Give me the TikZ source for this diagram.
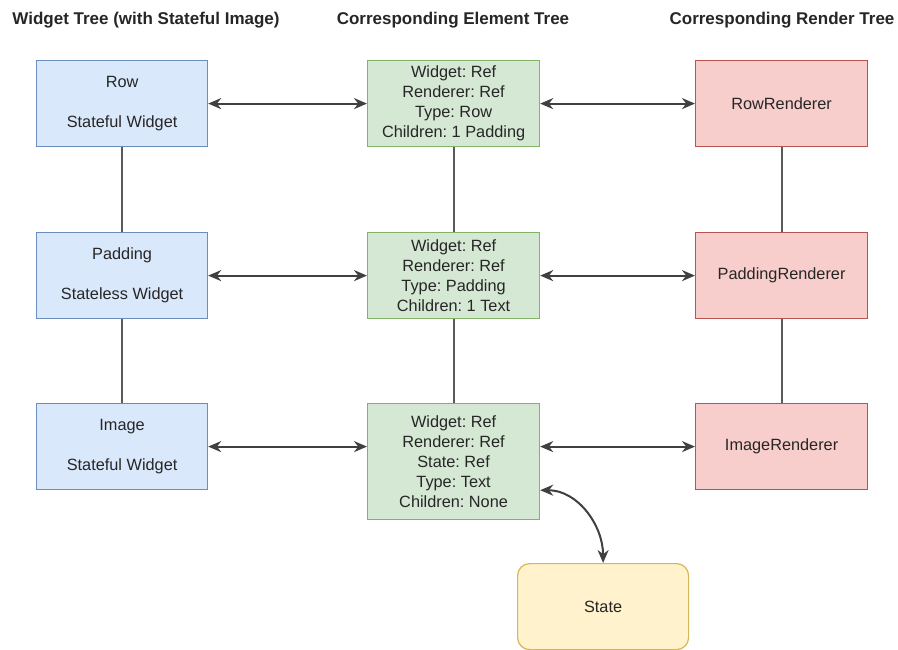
\documentclass[tikz,border=0pt]{standalone}
\usepackage{fontspec}
\setmainfont{Liberation Sans}
\usetikzlibrary{arrows.meta,calc}
\definecolor{bfill}{HTML}{DAE8FC}\definecolor{bdraw}{HTML}{6C8EBF}
\definecolor{gfill}{HTML}{D5E8D4}\definecolor{gdraw}{HTML}{82B366}
\definecolor{rfill}{HTML}{F8CECC}\definecolor{rdraw}{HTML}{B85450}
\definecolor{yfill}{HTML}{FFF2CC}\definecolor{ydraw}{HTML}{D6B656}
\definecolor{txt}{HTML}{262626}
\frenchspacing
\begin{document}
\begin{tikzpicture}[x=1pt,y=1pt,
  box/.style={draw, line width=1.2pt, minimum width=171pt, minimum height=86pt, inner sep=0pt,
    align=center, anchor=north west, text=txt, font=\fontsize{16.3}{20}\selectfont},
  bluebox/.style={box, fill=bfill, draw=bdraw},
  greenbox/.style={box, fill=gfill, draw=gdraw},
  redbox/.style={box, fill=rfill, draw=rdraw},
  yellowbox/.style={box, fill=yfill, draw=ydraw, rounded corners=12pt},
  title/.style={font=\fontsize{17}{20}\selectfont\bfseries, text=txt, inner sep=0pt},
  link/.style={draw=black!65, line width=1.8pt},
  conn/.style={{Stealth[length=13pt,width=11pt]}-{Stealth[length=13pt,width=11pt]}, draw=black!75, line width=2pt}
]
\useasboundingbox (0,0) rectangle (898,-649);
\node[title] (t1) at (146,-20) {Widget Tree (with Stateful Image)};
\node[title] (t2) at (453,-20) {Corresponding Element Tree};
\node[title] (t3) at (782,-20) {Corresponding Render Tree};

\node[bluebox] (b1) at (36,-60) {Row\\[20pt]Stateful Widget};
\node[bluebox] (b2) at (36,-232) {Padding\\[20pt]Stateless Widget};
\node[bluebox] (b3) at (36,-403) {Image\\[20pt]Stateful Widget};

\node[greenbox, minimum width=172pt] (g1) at (367,-60) {Widget: Ref\\Renderer: Ref\\Type: Row\\Children: 1 Padding};
\node[greenbox, minimum width=172pt] (g2) at (367,-232) {Widget: Ref\\Renderer: Ref\\Type: Padding\\Children: 1 Text};
\node[greenbox, minimum width=172pt, minimum height=116pt] (g3) at (367,-403) {Widget: Ref\\Renderer: Ref\\State: Ref\\Type: Text\\Children: None};

\node[redbox, minimum width=172pt] (r1) at (695,-60) {RowRenderer};
\node[redbox, minimum width=172pt] (r2) at (695,-232) {PaddingRenderer};
\node[redbox, minimum width=172pt] (r3) at (695,-403) {ImageRenderer};

\node[yellowbox] (st) at (517,-563) {State};

\draw[link] (b1) -- (b2);
\draw[link] (b2) -- (b3);
\draw[link] (g1) -- (g2);
\draw[link] (g2) -- (g3);
\draw[link] (r1) -- (r2);
\draw[link] (r2) -- (r3);

\draw[conn] (b1.east) -- (g1.west);
\draw[conn] (b2.east) -- (g2.west);
\draw[conn] (b3.east) -- (b3.east -| g3.west);
\draw[conn] (g1.east) -- (r1.west);
\draw[conn] (g2.east) -- (r2.west);
\draw[conn] (r3.west -| g3.east) -- (r3.west);
\coordinate (s1) at ($(g3.south east)+(0,30)$);
\draw[conn] (s1) to[out=0,in=90] (st.north);
\end{tikzpicture}
\end{document}
